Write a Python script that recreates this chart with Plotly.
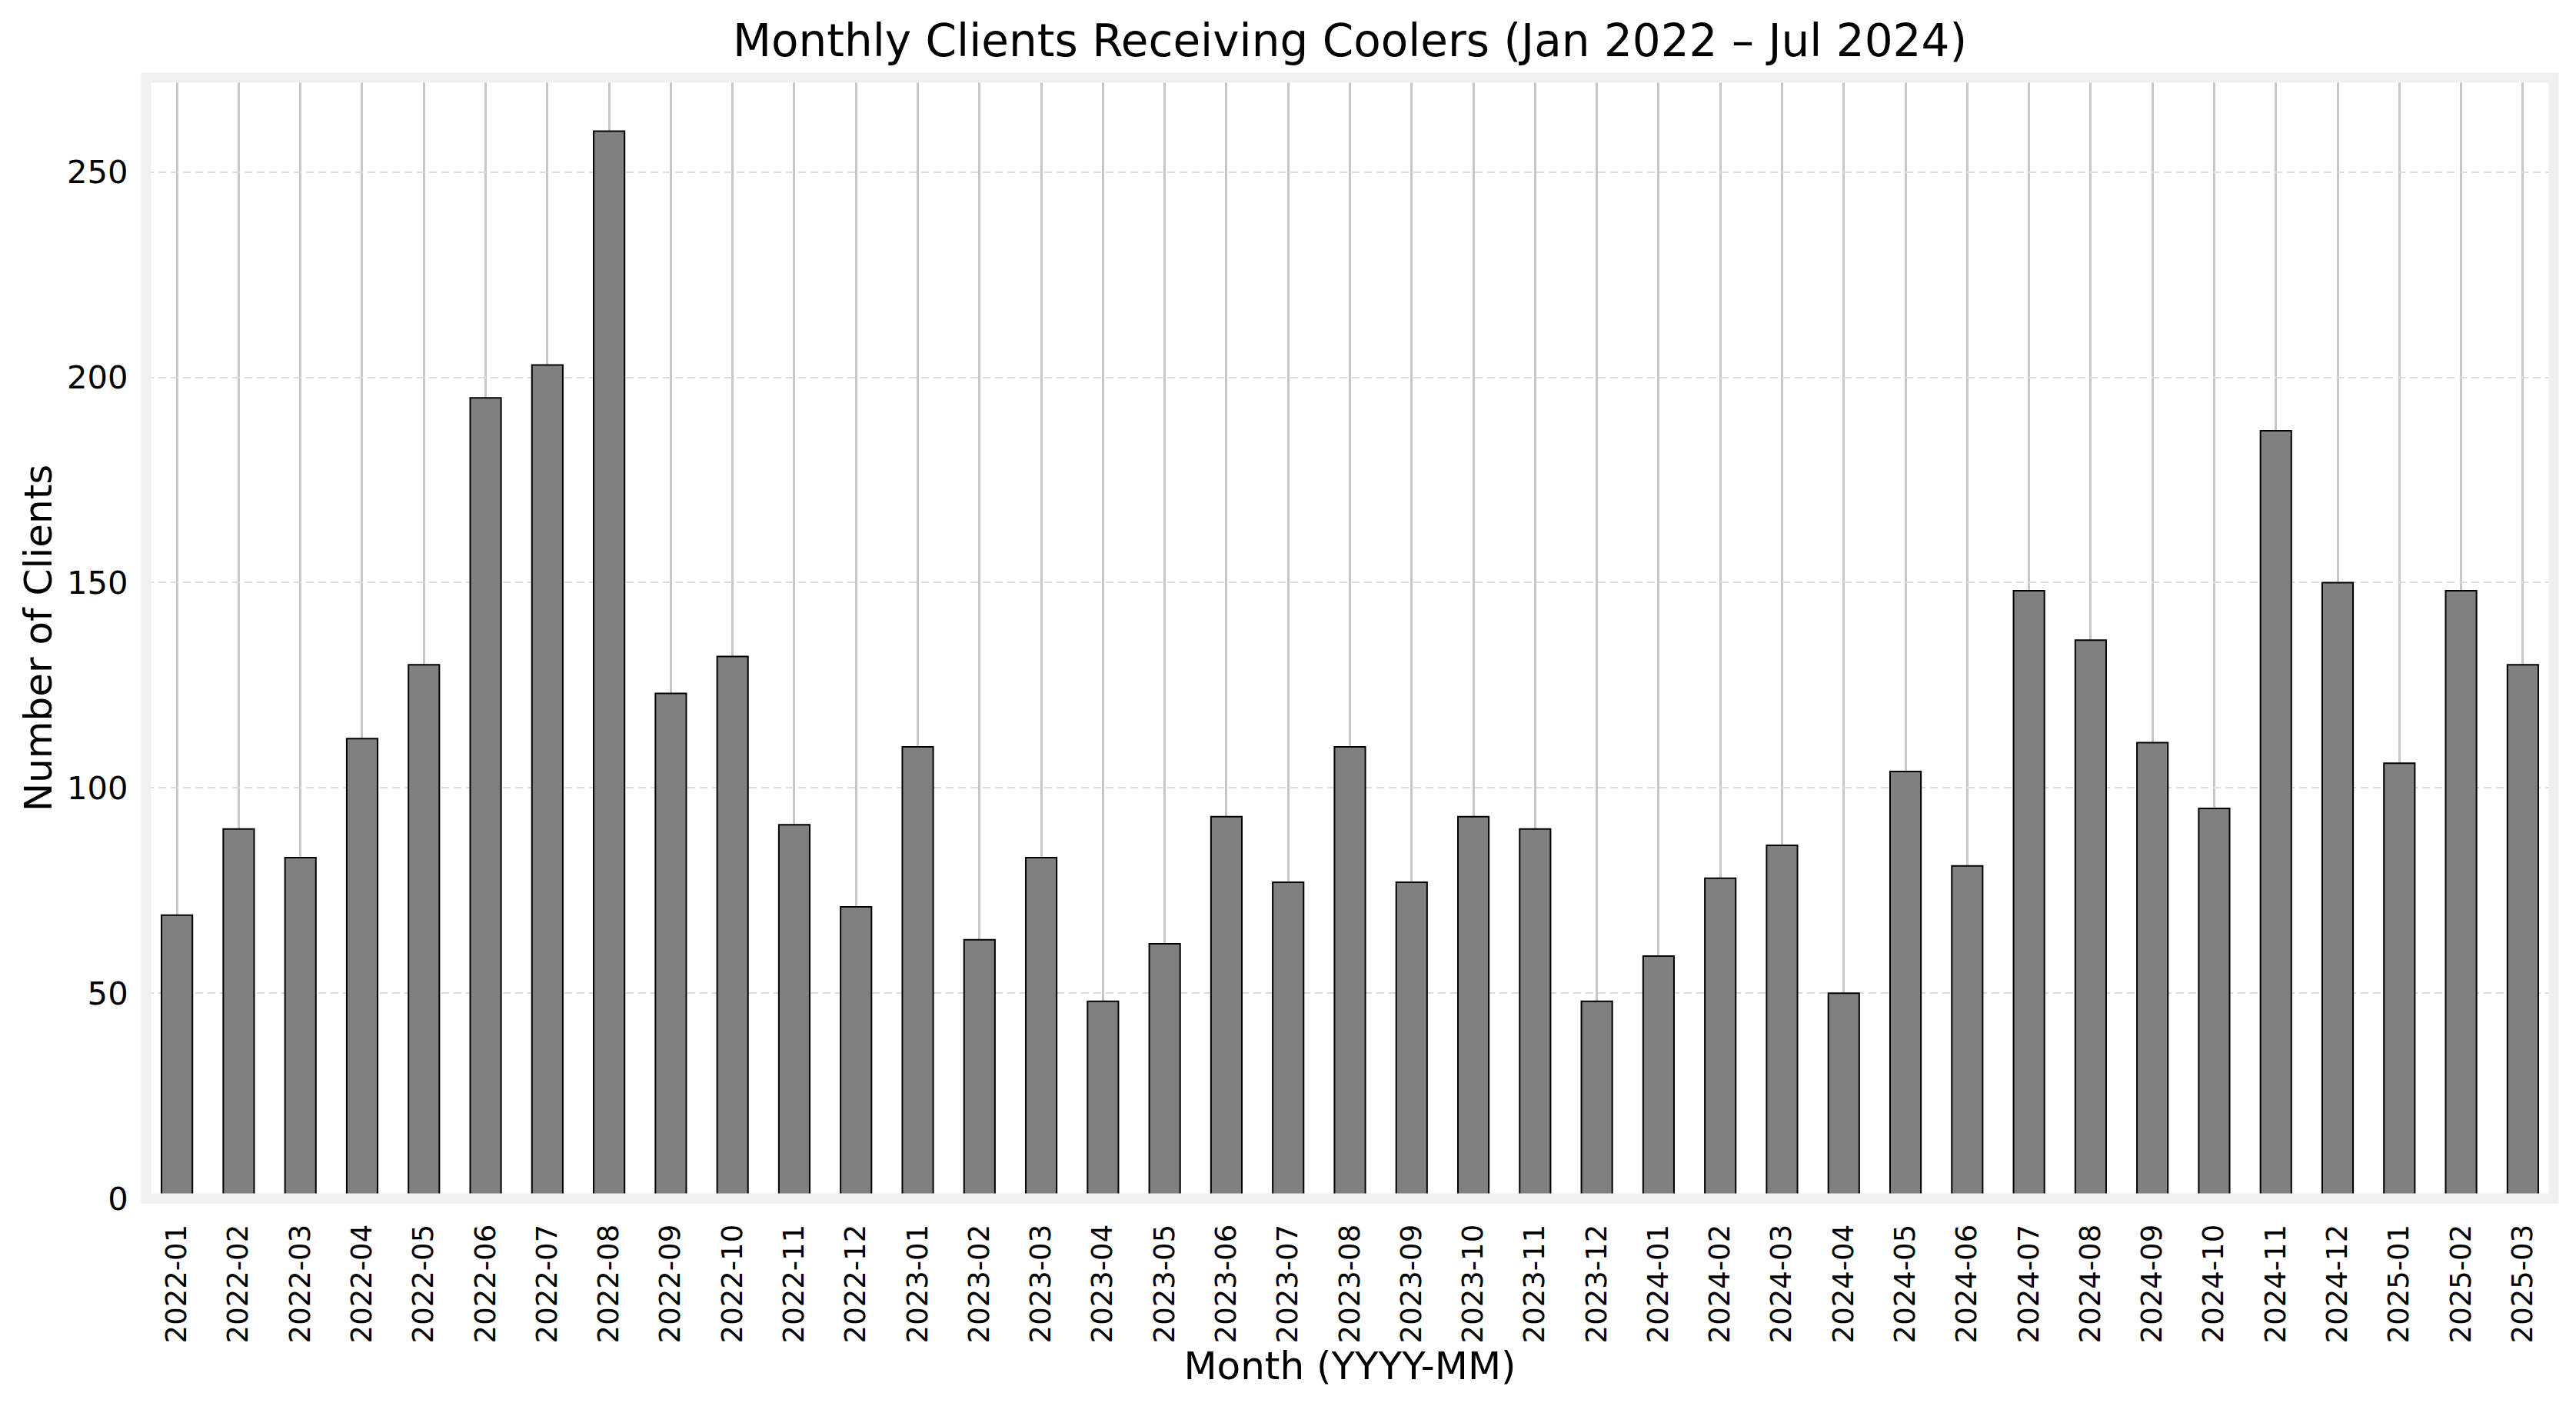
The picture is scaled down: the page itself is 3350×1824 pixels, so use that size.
import plotly.graph_objects as go

months = [
    "2022-01", "2022-02", "2022-03", "2022-04", "2022-05", "2022-06",
    "2022-07", "2022-08", "2022-09", "2022-10", "2022-11", "2022-12",
    "2023-01", "2023-02", "2023-03", "2023-04", "2023-05", "2023-06",
    "2023-07", "2023-08", "2023-09", "2023-10", "2023-11", "2023-12",
    "2024-01", "2024-02", "2024-03", "2024-04", "2024-05", "2024-06",
    "2024-07", "2024-08", "2024-09", "2024-10", "2024-11", "2024-12",
    "2025-01", "2025-02", "2025-03",
]
clients = [
    69, 90, 83, 112, 130, 195, 203, 260, 123, 132, 91, 71,
    110, 63, 83, 48, 62, 93, 77, 110, 77, 93, 90, 48,
    59, 78, 86, 50, 104, 81, 148, 136, 111, 95, 187, 150,
    106, 148, 130,
]
y_ticks = [0, 50, 100, 150, 200, 250]

title_text = "Monthly Clients Receiving Coolers (Jan 2022 \u2013 Jul 2024)"
x_title = "Month (YYYY-MM)"
y_title = "Number of Clients"

FONT = "DejaVu Sans"

fig = go.Figure()
fig.add_trace(go.Bar(
    x=list(range(len(months))),
    y=clients,
    width=0.5,
    marker=dict(color="#808080", line=dict(color="black", width=2)),
    hoverinfo="x+y",
))

W, H = 3350, 1824
ml, mr, mt, mb = 189.5, 28.5, 100.5, 265.5

fig.update_layout(
    template="none",
    width=W, height=H,
    autosize=False,
    paper_bgcolor="white",
    plot_bgcolor="white",
    margin=dict(l=ml, r=mr, t=mt, b=mb, pad=0, autoexpand=False),
    showlegend=False,
    font=dict(family=FONT, color="black"),
    title=dict(
        text=title_text,
        font=dict(family=FONT, size=58, color="black"),
        x=(ml + (W - mr)) / 2 / W, xanchor="center",
        y=1 - 53 / H, yanchor="middle",
    ),
    xaxis=dict(
        automargin=False,
        tickmode="array",
        tickvals=list(range(len(months))),
        ticktext=months,
        tickangle=-90,
        tickfont=dict(family=FONT, size=37, color="black"),
        range=[-0.5, len(months) - 0.5],
        showgrid=True,
        gridcolor="#c8c8c8",
        gridwidth=3,
        zeroline=False,
        showline=False,
        ticks="outside",
        ticklen=18,
        tickcolor="rgba(0,0,0,0)",
        title=dict(text=x_title, font=dict(family=FONT, size=50, color="black"), standoff=12),
        fixedrange=True,
    ),
    yaxis=dict(
        automargin=False,
        range=[0, 273],
        tickmode="array",
        tickvals=y_ticks,
        ticktext=[str(v) for v in y_ticks],
        tickfont=dict(family=FONT, size=41.7, color="black"),
        showgrid=True,
        gridcolor="#dddddd",
        gridwidth=1.6,
        griddash="10px,6px",
        zeroline=False,
        showline=False,
        ticks="outside",
        ticklen=14,
        tickcolor="rgba(0,0,0,0)",
        title=dict(text=y_title, font=dict(family=FONT, size=50, color="black"), standoff=3),
        fixedrange=True,
    ),
    shapes=[dict(
        type="rect", xref="paper", yref="paper",
        x0=0, x1=1, y0=0, y1=1,
        line=dict(color="#f0f0f0", width=13),
        fillcolor="rgba(0,0,0,0)",
        layer="above",
    )],
)

fig.write_html(
    "out.html",
    config={"displayModeBar": False},
    post_script="document.body.style.margin='0';document.body.style.overflow='hidden';",
)
